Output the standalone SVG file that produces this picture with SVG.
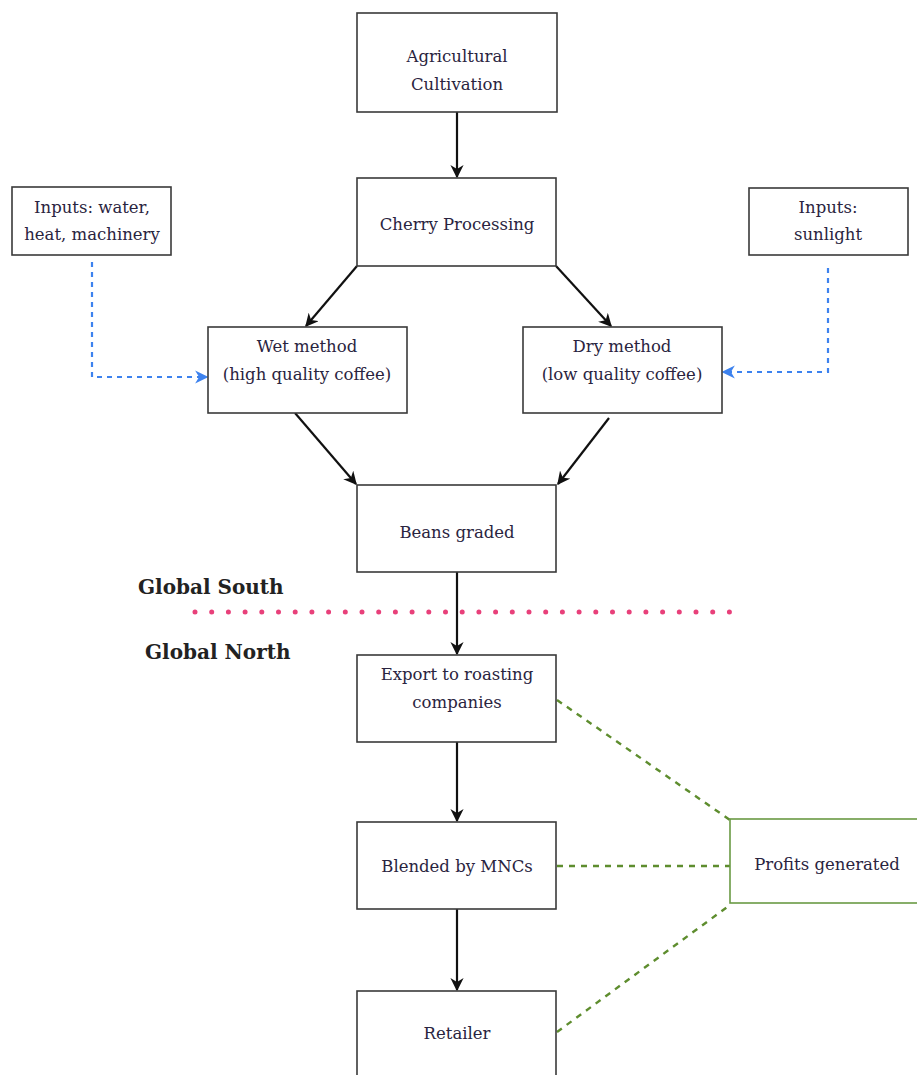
<svg xmlns="http://www.w3.org/2000/svg" width="917" height="1075" viewBox="0 0 917 1075">
<style>
.box{fill:#fff;stroke:#3a3a3a;stroke-width:1.6}
.gbox{fill:#fff;stroke:#6a9a44;stroke-width:1.6}
.t{font-family:'DejaVu Serif','Liberation Serif',serif;font-size:16.5px;fill:#2a2440;text-anchor:middle}
.h{font-family:'DejaVu Serif','Liberation Serif',serif;font-size:20px;font-weight:bold;fill:#222}
.arr{stroke:#111;stroke-width:2.2;fill:none;marker-end:url(#ah)}
.blue{stroke:#3d82ee;stroke-width:2.2;fill:none;stroke-dasharray:5 5;marker-end:url(#bh)}
.green{stroke:#5e8d2e;stroke-width:2.4;fill:none;stroke-dasharray:6 6}
</style>
<defs>
<marker id="ah" viewBox="0 0 10 10" refX="9" refY="5" markerWidth="6" markerHeight="6" markerUnits="strokeWidth" orient="auto"><path d="M0,0 L10,5 L0,10 L3,5 Z" fill="#111"/></marker>
<marker id="bh" viewBox="0 0 10 10" refX="9" refY="5" markerWidth="6" markerHeight="6" markerUnits="strokeWidth" orient="auto"><path d="M0,0 L10,5 L0,10 L3,5 Z" fill="#3d82ee"/></marker>
</defs>
<rect width="917" height="1075" fill="#fff"/>
<g id="connectors">
<line class="arr" x1="457" y1="112" x2="457" y2="177"/>
<line class="arr" x1="357" y1="266" x2="306" y2="326"/>
<line class="arr" x1="556" y1="266" x2="611" y2="326"/>
<line class="arr" x1="295" y1="413" x2="356" y2="484"/>
<line class="arr" x1="609" y1="418" x2="558" y2="484"/>
<line class="arr" x1="457" y1="572" x2="457" y2="654"/>
<line class="arr" x1="457" y1="742" x2="457" y2="821"/>
<line class="arr" x1="457" y1="909" x2="457" y2="990"/>
<path class="blue" d="M92,262 L92,377 L207,377"/>
<path class="blue" d="M828,268 L828,372 L723,372"/>
<line class="green" x1="557" y1="700" x2="730" y2="820"/>
<line class="green" x1="557" y1="866" x2="730" y2="866"/>
<line class="green" x1="557" y1="1032" x2="730" y2="905"/>
<line x1="195" y1="612" x2="732" y2="612" stroke="#e8407a" stroke-width="5" stroke-linecap="round" stroke-dasharray="0 16.7"/>
</g>
<g id="agri"><rect class="box" x="357" y="13" width="200" height="99"/><text class="t" x="457" y="62">Agricultural</text><text class="t" x="457" y="90">Cultivation</text></g>
<g id="cherry"><rect class="box" x="357" y="178" width="199" height="88"/><text class="t" x="457" y="230">Cherry Processing</text></g>
<g id="inputs-water"><rect class="box" x="12" y="187" width="159" height="68"/><text class="t" x="92" y="213">Inputs: water,</text><text class="t" x="92" y="240">heat, machinery</text></g>
<g id="inputs-sun"><rect class="box" x="749" y="188" width="159" height="67"/><text class="t" x="828" y="213">Inputs:</text><text class="t" x="828" y="240">sunlight</text></g>
<g id="wet"><rect class="box" x="208" y="327" width="199" height="86"/><text class="t" x="307" y="352">Wet method</text><text class="t" x="307" y="380">(high quality coffee)</text></g>
<g id="dry"><rect class="box" x="523" y="327" width="199" height="86"/><text class="t" x="622" y="352">Dry method</text><text class="t" x="622" y="380">(low quality coffee)</text></g>
<g id="beans"><rect class="box" x="357" y="485" width="199" height="87"/><text class="t" x="457" y="538">Beans graded</text></g>
<g id="labels"><text class="h" x="138" y="594">Global South</text><text class="h" x="145" y="659">Global North</text></g>
<g id="export"><rect class="box" x="357" y="655" width="199" height="87"/><text class="t" x="457" y="680">Export to roasting</text><text class="t" x="457" y="708">companies</text></g>
<g id="blended"><rect class="box" x="357" y="822" width="199" height="87"/><text class="t" x="457" y="872">Blended by MNCs</text></g>
<g id="retailer"><rect class="box" x="357" y="991" width="199" height="100"/><text class="t" x="457" y="1039">Retailer</text></g>
<g id="profits"><rect class="gbox" x="730" y="819" width="196" height="84"/><text class="t" x="827" y="870">Profits generated</text></g>
</svg>
